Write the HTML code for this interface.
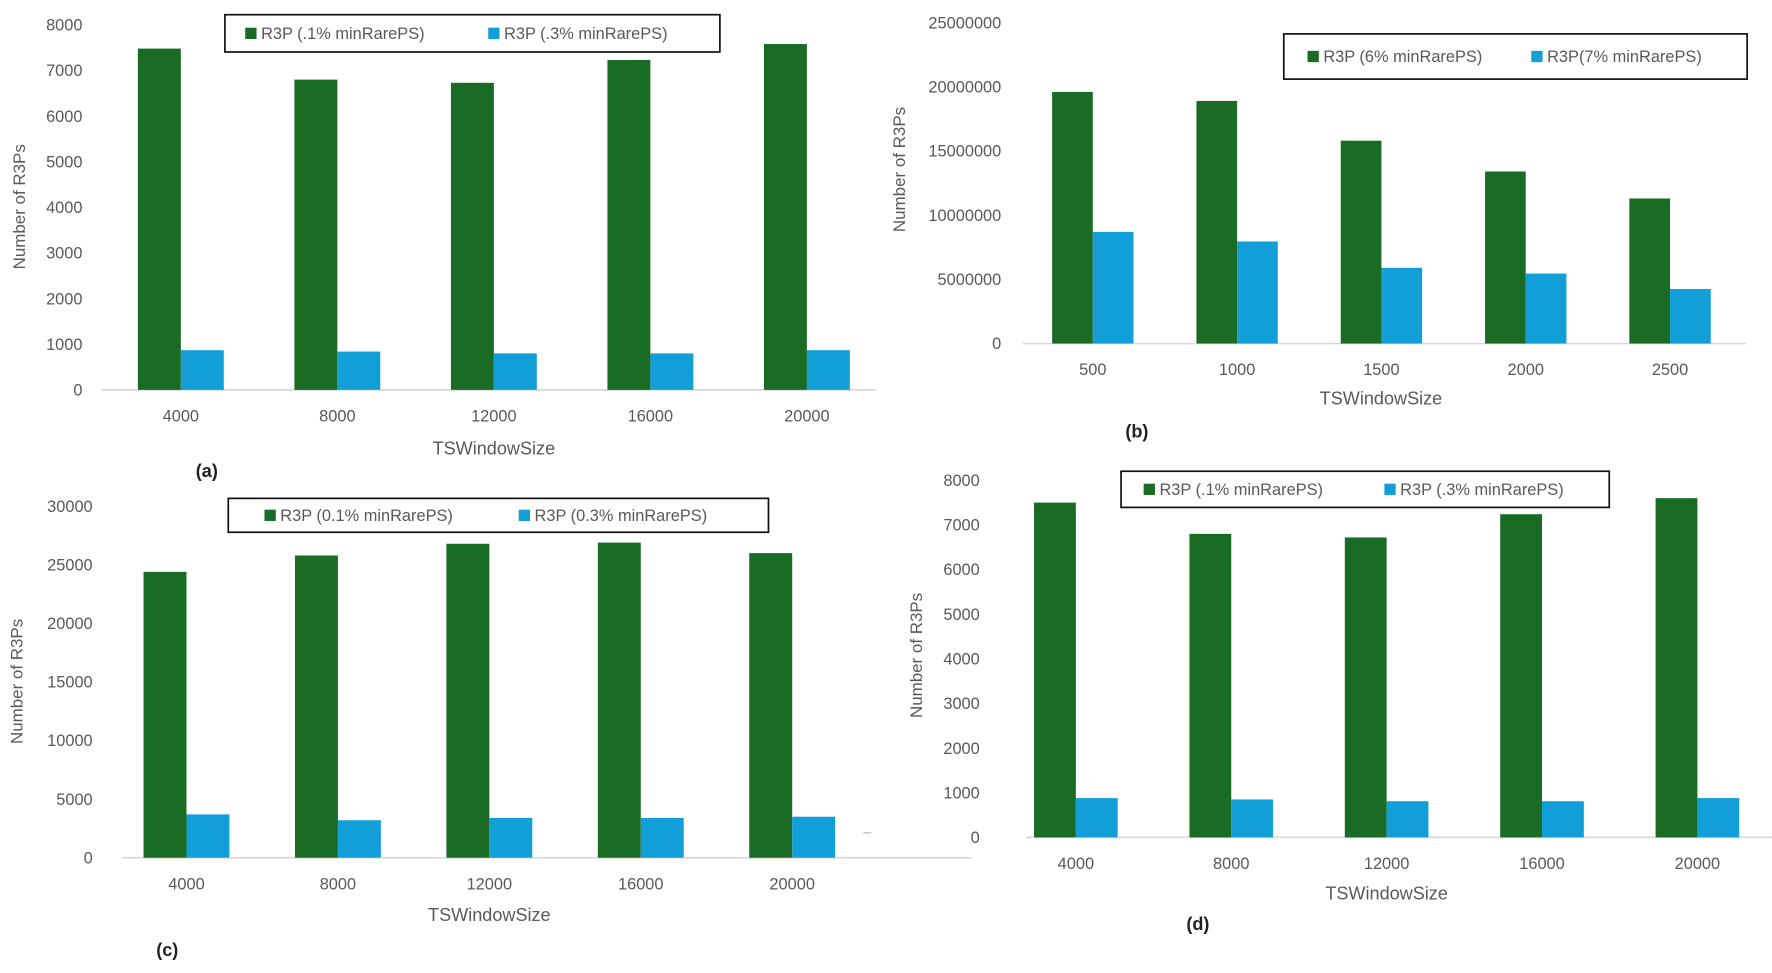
<!DOCTYPE html>
<html><head><meta charset="utf-8"><style>
html,body{margin:0;padding:0;background:#fff;}
svg{display:block;font-family:"Liberation Sans",sans-serif;}
</style></head><body>
<svg id="fig" width="1772" height="973" viewBox="0 0 1568 861" xmlns="http://www.w3.org/2000/svg">
<line x1="764" x2="771" y1="737" y2="737" stroke="#bfbfbf" stroke-width="1.2"/>
</svg>
<script>
// Chart (a)
const catsA = ["4000","8000","12000","16000","20000"];
const greenA = [7480, 6800, 6730, 7230, 7580];
const blueA = [870, 840, 800, 800, 870];
const ticksA = [0,1000,2000,3000,4000,5000,6000,7000,8000];
const legendA = ["R3P (.1% minRarePS)","R3P (.3% minRarePS)"];
// Chart (b)
const catsB = ["500","1000","1500","2000","2500"];
const greenB = [19600000, 18900000, 15800000, 13400000, 11300000];
const blueB = [8700000, 7950000, 5900000, 5450000, 4250000];
const ticksB = [0,5000000,10000000,15000000,20000000,25000000];
const legendB = ["R3P (6% minRarePS)","R3P(7% minRarePS)"];
// Chart (c)
const catsC = ["4000","8000","12000","16000","20000"];
const greenC = [24400, 25800, 26800, 26900, 26000];
const blueC = [3700, 3200, 3400, 3400, 3500];
const ticksC = [0,5000,10000,15000,20000,25000,30000];
const legendC = ["R3P (0.1% minRarePS)","R3P (0.3% minRarePS)"];
// Chart (d)
const catsD = ["4000","8000","12000","16000","20000"];
const greenD = [7500, 6800, 6720, 7240, 7600];
const blueD = [880, 850, 810, 810, 880];
const ticksD = [0,1000,2000,3000,4000,5000,6000,7000,8000];
const legendD = ["R3P (.1% minRarePS)","R3P (.3% minRarePS)"];

const NS = "http://www.w3.org/2000/svg";
const svg = document.getElementById('fig');
const GREEN = "#1a6b24", BLUE = "#129fd8", TXT = "#595959";

function mk(tag, attrs, parent){
  const e = document.createElementNS(NS, tag);
  for (const k in attrs) e.setAttribute(k, attrs[k]);
  (parent||svg).appendChild(e);
  return e;
}
function txt(s, attrs, parent){ const t = mk('text', attrs, parent); t.textContent = s; return t; }

function chart(cfg){
  const g = mk('g', {});
  
  
  const maxV = cfg.ticks[cfg.ticks.length-1];
  const y = v => cfg.y0 - (v / maxV) * (cfg.y0 - cfg.yTop);
  const x = i => cfg.x0 + i * cfg.step;
  const ax = mk('line', {x1:cfg.axL, x2:cfg.axR, y1:cfg.y0, y2:cfg.y0, stroke:"#d9d9d9", "stroke-width":1.5}, g);
  
  
  cfg.ticks.forEach(t => {
    const e = txt(String(t), {x:cfg.tickX, y:y(t)+5, "text-anchor":"end", "font-size":14.5, fill:TXT}, g);
    
    
  });
  cfg.cats.forEach((c, i) => {
    const cx = x(i);
    const b1 = mk('rect', {x:cx-cfg.bw, y:y(cfg.green[i]), width:cfg.bw, height:cfg.y0 - y(cfg.green[i]), fill:GREEN}, g);
    
    
    const b2 = mk('rect', {x:cx, y:y(cfg.blue[i]), width:cfg.bw, height:cfg.y0 - y(cfg.blue[i]), fill:BLUE}, g);
    
    
    const l = txt(c, {x:cx, y:cfg.y0+28, "text-anchor":"middle", "font-size":14.5, fill:TXT}, g);
    
    
  });
  const xt = txt("TSWindowSize", {x:cfg.xtX, y:cfg.xtY, "text-anchor":"middle", "font-size":16, fill:TXT}, g);
  
  
  const yt = txt("Number of R3Ps", {x:0, y:0, "text-anchor":"middle", "font-size":15, fill:TXT, transform:`translate(${cfg.ytX},${cfg.ytY}) rotate(-90)`}, g);
  
  
  const pl = txt("(" + cfg.id + ")", {x:cfg.plX, y:cfg.plY, "text-anchor":"middle", "font-size":16, "font-weight":"bold", fill:"#222"}, g);
  
  
  const L = cfg.leg;
  const lb = mk('rect', {x:L.x, y:L.y, width:L.w, height:L.h, fill:"#fff", stroke:"#111", "stroke-width":1.5}, g);
  
  
  const cy = L.y + L.h/2;
  [[L.s1, GREEN, cfg.legend[0]], [L.s2, BLUE, cfg.legend[1]]].forEach(([sx, col, label]) => {
    const sq = mk('rect', {x:sx, y:cy-5, width:10, height:10, fill:col}, g);
    
    
    const lt = txt(label, {x:sx+14, y:cy+5, "font-size":14.5, fill:TXT}, g);
    
    
  });
}

chart({id:"a", cats:catsA, green:greenA, blue:blueA, ticks:ticksA, legend:legendA,
  y0:345, yTop:22, x0:160, step:138.5, bw:38, axL:90, axR:775, tickX:73,
  xtX:437, xtY:402, ytX:22, ytY:183, plX:183, plY:422,
  leg:{x:199, y:13, w:438, h:33, s1:217, s2:432}});
chart({id:"b", cats:catsB, green:greenB, blue:blueB, ticks:ticksB, legend:legendB,
  y0:304, yTop:20, x0:967, step:127.7, bw:36, axL:905, axR:1545, tickX:886,
  xtX:1222, xtY:358, ytX:801, ytY:150, plX:1006, plY:387,
  leg:{x:1136, y:30, w:410, h:40, s1:1157, s2:1355}});
chart({id:"c", cats:catsC, green:greenC, blue:blueC, ticks:ticksC, legend:legendC,
  y0:759, yTop:448, x0:165, step:134, bw:38, axL:108, axR:860, tickX:82,
  xtX:433, xtY:815, ytX:20, ytY:603, plX:148, plY:846,
  leg:{x:202, y:441, w:478, h:30, s1:234, s2:459}});
chart({id:"d", cats:catsD, green:greenD, blue:blueD, ticks:ticksD, legend:legendD,
  y0:741, yTop:425, x0:952, step:137.5, bw:37, axL:908, axR:1568, tickX:867,
  xtX:1227, xtY:796, ytX:816, ytY:580, plX:1060, plY:823,
  leg:{x:992, y:417, w:432, h:32, s1:1012, s2:1225}});
</script>
</body></html>
